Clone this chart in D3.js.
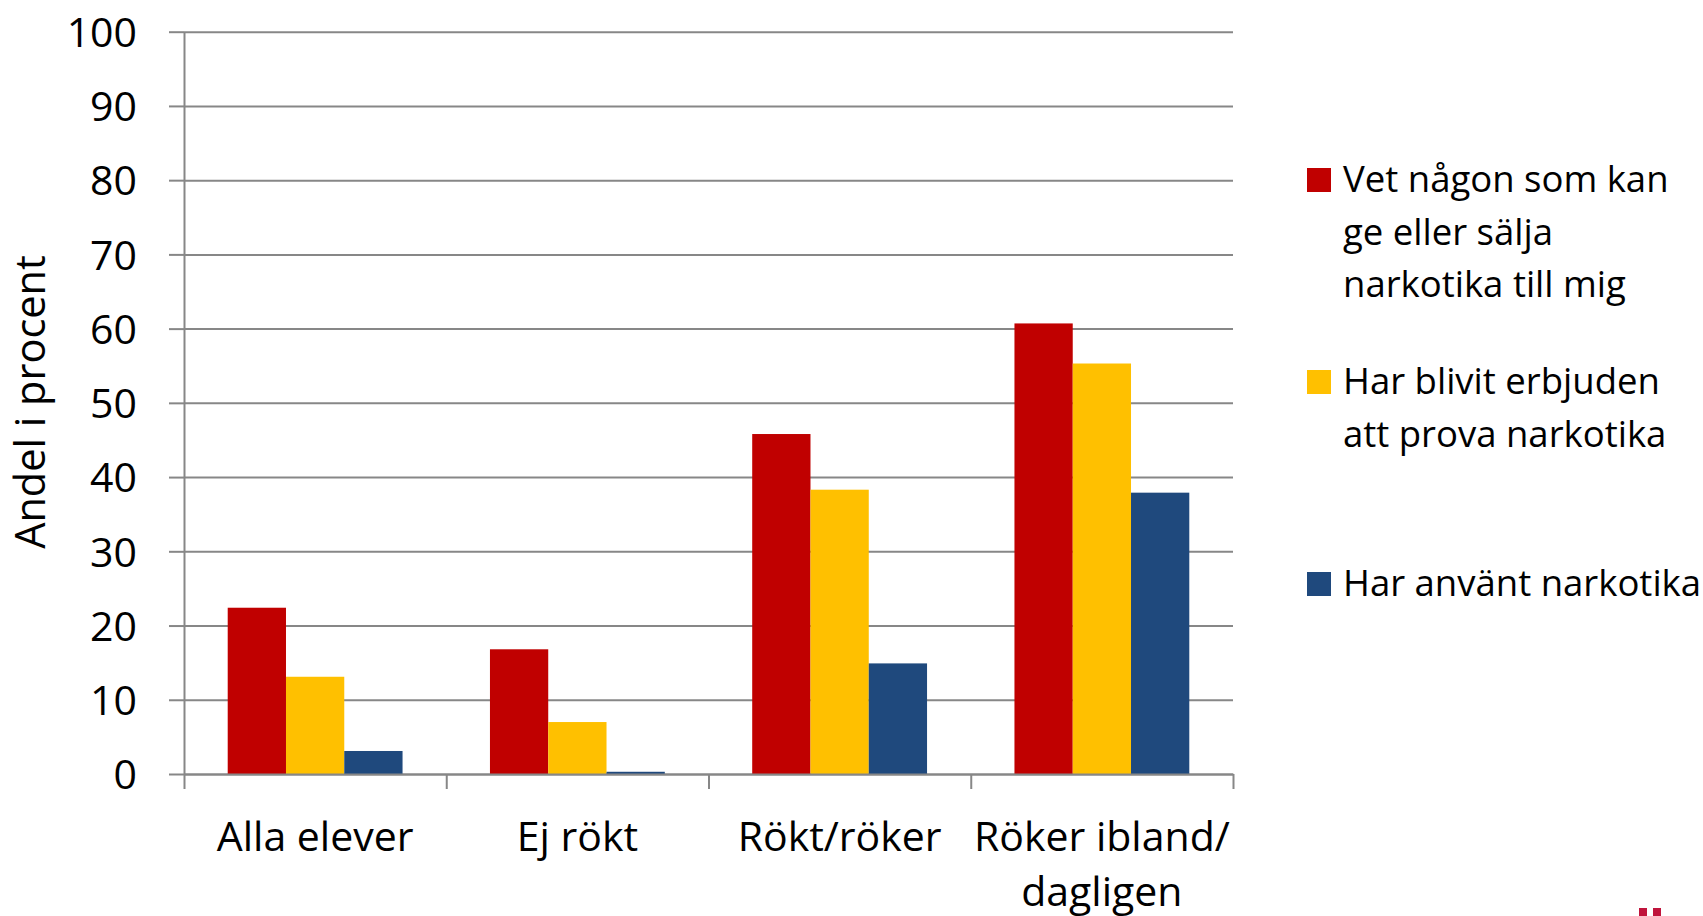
<!DOCTYPE html>
<html>
<head>
<meta charset="utf-8">
<script src="https://cdn.jsdelivr.net/npm/d3@7"></script>
<style>
  html, body { margin: 0; padding: 0; background: #fff; }
  svg text { font-family: "Open Sans", "Noto Sans", sans-serif; fill: #000; }
</style>
</head>
<body>
<svg id="chart" width="1703" height="916"></svg>
<script>
// ---- data ----
const categories = ["Alla elever", "Ej rökt", "Rökt/röker", "Röker ibland/\ndagligen"];
const seriesNames = [
  "Vet någon som kan\nge eller sälja\nnarkotika till mig",
  "Har blivit erbjuden\natt prova narkotika",
  "Har använt narkotika"
];
const vetNagon = [22.4, 16.8, 45.8, 60.7];
const erbjuden = [13.1, 7.0, 38.3, 55.3];
const anvant   = [3.1, 0.3, 14.9, 37.9];
const yTicks = [0, 10, 20, 30, 40, 50, 60, 70, 80, 90, 100];
const colors = ["#C00000", "#FFC000", "#1F497D"];
const yTitle = "Andel i procent";

const seriesValues = [vetNagon, erbjuden, anvant];

// ---- layout ----
const svg = d3.select("#chart");
const plot = { left: 184, right: 1233, top: 31.7, bottom: 774 };
const gridColor = "#878787";
const fw = 400;

const y = d3.scaleLinear().domain([0, 100]).range([plot.bottom, plot.top]);
const x = d3.scaleBand().domain(categories).range([plot.left, plot.right]).paddingInner(0).paddingOuter(0);
const xs = d3.scaleBand().domain(d3.range(seriesNames.length)).range([0, x.bandwidth()]).paddingInner(0).paddingOuter(0.75);
const xb = d3.scaleLinear().domain([0, categories.length]).range([plot.left, plot.right]);

// gridlines
const grid = svg.append("g").attr("transform", `translate(${plot.left},0)`)
  .call(d3.axisLeft(y).tickValues(yTicks).tickSize(-(plot.right - plot.left)).tickFormat(""));
grid.select(".domain").remove();
grid.selectAll(".tick line").attr("stroke", gridColor).attr("stroke-width", 2);

// bars
seriesValues.forEach((vals, si) => {
  svg.append("g").selectAll("rect").data(vals).join("rect")
    .attr("x", (d, i) => x(categories[i]) + xs(si))
    .attr("width", xs.bandwidth())
    .attr("y", d => y(d))
    .attr("height", d => y(0) - y(d))
    .attr("fill", colors[si]);
});

// y axis
const yAxis = svg.append("g").attr("transform", `translate(${plot.left},0)`)
  .call(d3.axisLeft(y).tickValues(yTicks).tickSize(15).tickSizeOuter(0).tickPadding(32));
yAxis.select(".domain").attr("stroke", gridColor).attr("stroke-width", 2);
yAxis.selectAll(".tick line").attr("stroke", gridColor).attr("stroke-width", 2);
yAxis.selectAll(".tick text").style("font-size", "41px").style("font-weight", fw)
  .attr("fill", "#000").attr("dy", "0.36em");

// x axis (boundary ticks)
const xAxis = svg.append("g").attr("transform", `translate(0,${plot.bottom})`)
  .call(d3.axisBottom(xb).tickValues(d3.range(categories.length + 1)).tickSize(15).tickSizeOuter(0).tickFormat(""));
xAxis.select(".domain").attr("stroke", gridColor).attr("stroke-width", 2);
xAxis.selectAll(".tick line").attr("stroke", gridColor).attr("stroke-width", 2);

// category labels
const catG = svg.append("g");
categories.forEach(c => {
  const t = catG.append("text")
    .attr("x", x(c) + x.bandwidth() / 2)
    .attr("y", 851)
    .attr("text-anchor", "middle")
    .style("font-size", "41px").style("font-weight", fw);
  c.split("\n").forEach((line, li) => {
    t.append("tspan").attr("x", x(c) + x.bandwidth() / 2).attr("dy", li === 0 ? 0 : 55).text(line);
  });
});

// y title
svg.append("text")
  .attr("transform", "translate(45,402) rotate(-90)")
  .attr("text-anchor", "middle")
  .style("font-size", "41.5px").style("font-weight", fw)
  .text(yTitle);

// legend
const legendTop = [168, 370, 572];
const leg = svg.append("g");
seriesNames.forEach((name, i) => {
  leg.append("rect").attr("x", 1307).attr("y", legendTop[i]).attr("width", 24).attr("height", 24).attr("fill", colors[i]);
  const t = leg.append("text").attr("x", 1343).attr("y", legendTop[i] + 24)
    .style("font-size", "36.5px").style("font-weight", fw);
  name.split("\n").forEach((line, li) => {
    t.append("tspan").attr("x", 1343).attr("dy", li === 0 ? 0 : 52.5).text(line);
  });
});

// logo fragment bottom-right
svg.append("rect").attr("x", 1639).attr("y", 908).attr("width", 8).attr("height", 8).attr("fill", "#C0143C");
svg.append("rect").attr("x", 1653).attr("y", 908).attr("width", 8).attr("height", 8).attr("fill", "#C0143C");
</script>
</body>
</html>
